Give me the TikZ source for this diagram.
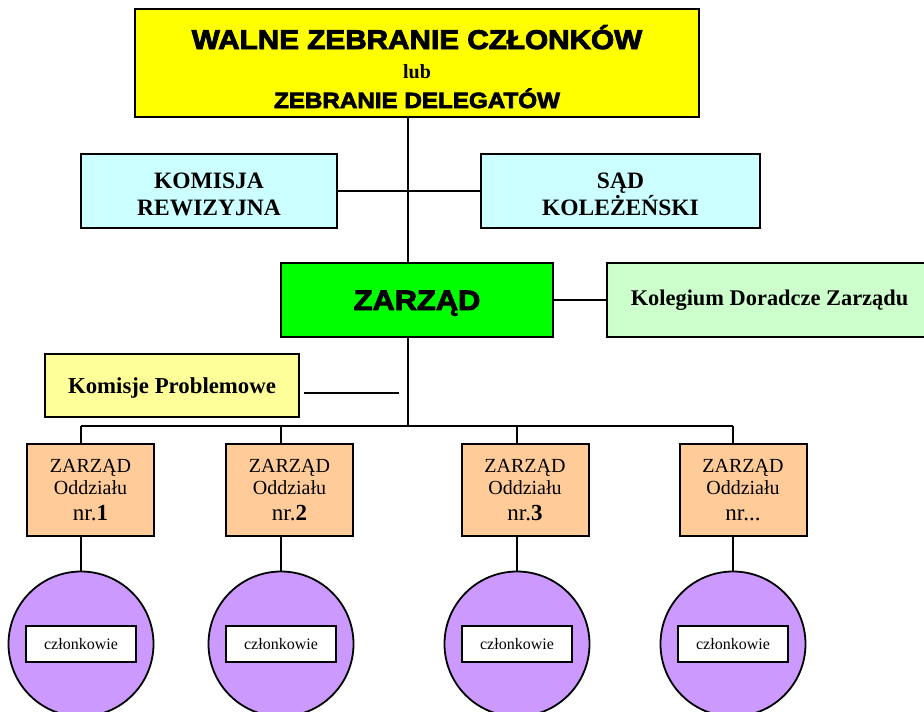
\documentclass[tikz,border=0pt]{standalone}
\usepackage{fontspec}
\setmainfont{Liberation Serif}
\newfontfamily\heavyfont[FakeStretch=1.1,BoldFeatures={FakeBold=3.5}]{Liberation Sans}
\usepackage{tikz}
\usetikzlibrary{positioning,calc}
\definecolor{assemblyyellow}{HTML}{FFFF00}
\definecolor{auditcyan}{HTML}{CCFFFF}
\definecolor{boardgreen}{HTML}{00FF00}
\definecolor{councilgreen}{HTML}{CCFFCC}
\definecolor{taskyellow}{HTML}{FFFF99}
\definecolor{branchpeach}{HTML}{FFCC99}
\definecolor{memberviolet}{HTML}{CC99FF}

\begin{document}
\begin{tikzpicture}[x=1pt,y=-1pt,
  box/.style={draw=black,line width=2pt,inner sep=0pt},
  link/.style={draw=black,line width=1.4pt},
  heading/.style={font=\heavyfont\bfseries\fontsize{#1}{#1}\selectfont},
  branch/.style={box,fill=branchpeach,minimum width=127,minimum height=92,
    align=center,font=\fontsize{20}{22}\selectfont},
  members/.style={circle,draw=black,line width=1.8pt,fill=memberviolet,
    minimum size=145,inner sep=0pt},
  memberbox/.style={box,fill=white,minimum width=110,minimum height=36,
    font=\fontsize{16}{18}\selectfont}]
  \useasboundingbox (0,0) rectangle (924,712);

  % General assembly
  \node[box,fill=assemblyyellow,minimum width=564,minimum height=108] (wz) at (417,63) {};
  \node[heading=27,anchor=base] (wz1) at (417,49) {WALNE ZEBRANIE CZŁONKÓW};
  \node[font=\bfseries\fontsize{20}{22}\selectfont,anchor=base] (wz2) at (417,78) {lub};
  \node[heading=22,anchor=base] (wz3) at (417,108) {ZEBRANIE DELEGATÓW};

  % Audit committee and peer court
  \node[box,fill=auditcyan,minimum width=256,minimum height=74,align=center,
    font=\bfseries\fontsize{23.5}{27}\selectfont] (kr) at (209,191)
    {\rule{0pt}{21.6pt}KOMISJA\\REWIZYJNA};
  \node[box,fill=auditcyan,minimum width=279,minimum height=74,align=center,
    font=\bfseries\fontsize{23.5}{27}\selectfont] (sk) at (620.5,191)
    {\rule{0pt}{21.6pt}SĄD\\KOLEŻEŃSKI};

  % Board
  \node[box,fill=boardgreen,minimum width=272,minimum height=74,heading=28,
    text height=20pt,text depth=0pt] (zarzad) at (417,300) {ZARZĄD};
  \node[box,fill=councilgreen,minimum width=325,minimum height=74,
    font=\bfseries\fontsize{22.4}{26}\selectfont,text height=10pt,text depth=0pt]
    (kdz) at (769.5,300) {Kolegium Doradcze Zarządu};
  \node[box,fill=taskyellow,minimum width=254,minimum height=63,
    font=\bfseries\fontsize{22.8}{26}\selectfont,text height=15pt,text depth=0pt]
    (kp) at (172,385.5) {Komisje Problemowe};

  % Spine
  \coordinate (bus) at (408,426);
  \coordinate (kpend) at (399,393);
  \draw[link] (bus |- wz.south) -- (bus |- zarzad.north);
  \draw[link] (bus |- zarzad.south) -- (bus);
  \draw[link] (kr.east) -- (sk.west);
  \draw[link] (zarzad.east) -- (kdz.west);
  \draw[link] ([xshift=4pt]kp.east |- kpend) -- (kpend);

  % Branches and their members
  \foreach \i/\bx/\cx/\lab in {1/90.5/81/{.\textbf{1}},2/289.5/281/{.\textbf{2}},
      3/525/517/{.\textbf{3}},4/743/733/{...}} {
    \node[branch] (odz\i) at (\bx,490)
      {ZARZĄD\\Oddziału\\[4pt]{\fontsize{23}{26}\selectfont nr\lab}};
    \node[members] (c\i) at (\cx,644) {};
    \node[memberbox] (m\i) at (c\i) {członkowie};
    \draw[link] (c\i.north |- bus) -- (c\i.north |- odz\i.north);
    \draw[link] (c\i.north |- odz\i.south) -- (c\i.north);
  }
  \draw[link] (c1.north |- bus) -- (c4.north |- bus);
\end{tikzpicture}
\end{document}
